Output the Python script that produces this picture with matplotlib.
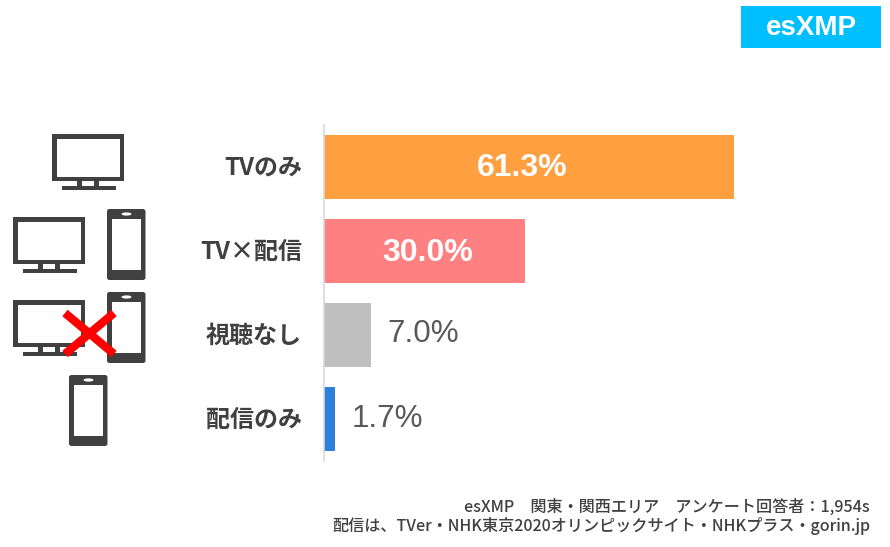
import matplotlib
matplotlib.use("Agg")
import matplotlib.pyplot as plt
from matplotlib.patches import Rectangle, FancyBboxPatch, Ellipse
from matplotlib.transforms import ScaledTranslation

plt.rcParams['font.family'] = ['Noto Sans CJK JP', 'DejaVu Sans']

categories = ["TVのみ", "TV×配信", "視聴なし", "配信のみ"]
values = [61.3, 30.0, 7.0, 1.7]
bar_colors = ["#FF9F40", "#FF8080", "#BFBFBF", "#2E7FDB"]
footer_lines = [
    "esXMP　関東・関西エリア　アンケート回答者：1,954s",
    "配信は、TVer・NHK東京2020オリンピックサイト・NHKプラス・gorin.jp",
]

W, H = 890, 547
DARK = "#404040"

fig = plt.figure(figsize=(W / 100, H / 100), dpi=100)

# background layer in pixel coordinates for the icons, badge and footer
bg = fig.add_axes([0, 0, 1, 1])
bg.set_xlim(0, W)
bg.set_ylim(H, 0)
bg.axis("off")


def draw_tv(x, y):
    bg.add_patch(Rectangle((x, y), 72, 47, fc=DARK, ec="none"))
    bg.add_patch(Rectangle((x + 4.5, y + 4.5), 63, 38, fc="white", ec="none"))
    bg.add_patch(Rectangle((x + 25, y + 47), 4.5, 6, fc=DARK, ec="none"))
    bg.add_patch(Rectangle((x + 42, y + 47), 4.5, 6, fc=DARK, ec="none"))
    bg.add_patch(Rectangle((x + 9.5, y + 52), 54, 3.5, fc=DARK, ec="none"))


def draw_phone(x, y):
    bg.add_patch(FancyBboxPatch((x + 1.5, y + 1.5), 35.5, 68, boxstyle="round,pad=1.5,rounding_size=2.5",
                                fc=DARK, ec="none"))
    bg.add_patch(Rectangle((x + 5, y + 10), 29, 51, fc="white", ec="none"))
    bg.add_patch(Ellipse((x + 19.5, y + 5), 10, 3.2, fc="white", ec="none"))


draw_tv(52, 134)
draw_tv(13, 217)
draw_phone(107, 209)
draw_tv(13, 300)
draw_phone(107, 292)
draw_phone(69, 375)

# red cross over the third row
bg.plot([65, 114], [313, 354], color="#FF0000", lw=6, solid_capstyle="butt")
bg.plot([114, 65], [313, 354], color="#FF0000", lw=6, solid_capstyle="butt")

# badge
bg.add_patch(Rectangle((741, 6), 140, 42, fc="#00BFFF", ec="none"))
bg.text(811, 28, "esXMP", color="white", fontsize=20, ha="center", va="center",
        family="Liberation Sans", weight="bold")

# footer
bg.text(870, 507, footer_lines[0], color=DARK, fontsize=11.6, weight="medium", ha="right", va="center")
bg.text(870, 526, footer_lines[1], color=DARK, fontsize=11.6, weight="medium", ha="right", va="center")

# bar chart
ax = fig.add_axes([324 / W, 1 - 461 / H, (W - 324) / W, 336 / H])
ax.patch.set_alpha(0)
y_pos = range(len(categories))
bars = ax.barh(y_pos, values, height=0.765, color=bar_colors)
ax.set_xlim(0, (W - 324) / 6.69)
ax.set_ylim(3.5, -0.5)
ax.set_xticks([])
ax.set_yticks(list(y_pos))
ax.set_yticklabels(categories, fontsize=17.3, weight="bold", color=DARK)
ax.tick_params(axis="y", length=0, pad=16)
for lab in ax.get_yticklabels():
    lab.set_transform(lab.get_transform() + ScaledTranslation(0, 1.5 / 72, fig.dpi_scale_trans))
for s in ["top", "right", "bottom"]:
    ax.spines[s].set_visible(False)
ax.spines["left"].set_color("#D9D9D9")
ax.spines["left"].set_linewidth(1.2)

# nudges for the labels, in points
label_dx = [-4.7, 2.2, 12, 12]
label_dy = [-1, -1.5, 0.5, 0]
for i, v in enumerate(values):
    if v > 20:
        ax.annotate(f"{v:.1f}%", (v / 2, i), xytext=(label_dx[i], label_dy[i]), textcoords="offset points",
                    color="white", fontsize=23, weight="bold", ha="center", va="center",
                    family="Liberation Sans")
    else:
        ax.annotate(f"{v:.1f}%", (v, i), xytext=(label_dx[i], label_dy[i]), textcoords="offset points",
                    color="#595959", fontsize=22.6, ha="left", va="center",
                    family="Liberation Sans")

fig.savefig("out.png", dpi=100)
